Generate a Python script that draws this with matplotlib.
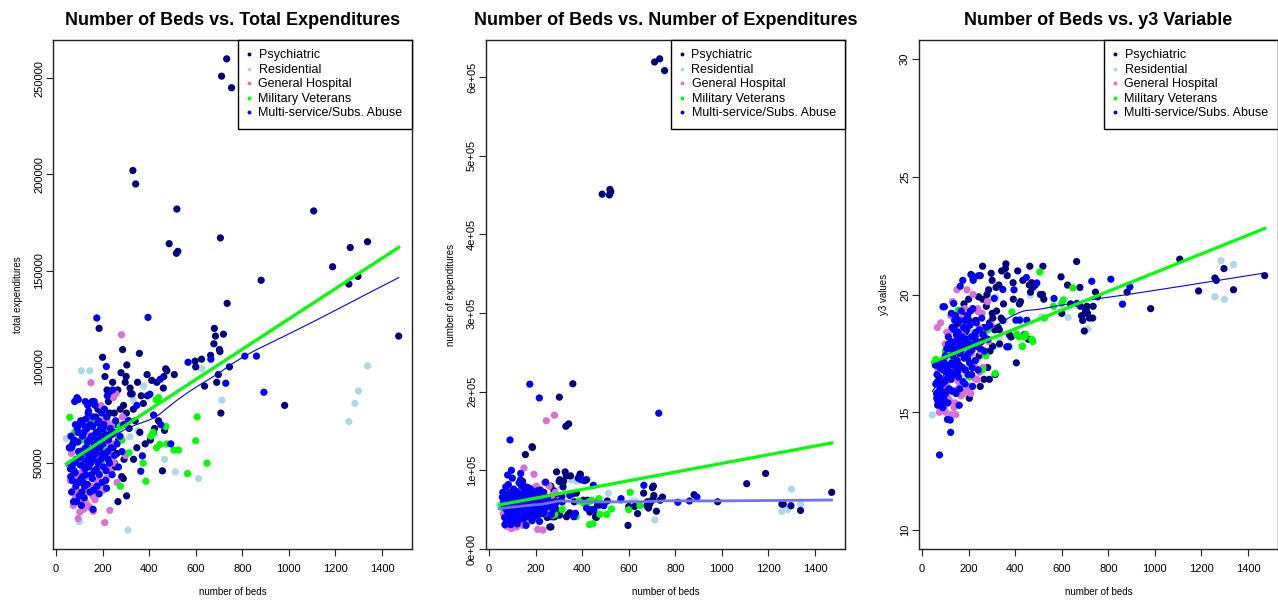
"""Number of beds vs. three expenditure measures, by facility type."""

import numpy as np
import matplotlib
matplotlib.use("Agg")
import matplotlib.pyplot as plt
from matplotlib.lines import Line2D
from matplotlib.ticker import FuncFormatter

plt.rcParams["font.family"] = ["Liberation Sans", "DejaVu Sans"]

# ==============================================================================
# Data: beds, total expenditures (thousands),
# number of expenditures (thousands), y3 value
# ==============================================================================

psy_beds = [711, 733, 754, 486, 517, 519, 523, 330, 342, 706,
            1107, 1188, 1264, 1258, 1297, 1338, 881, 735, 1472, 982,
            680, 685, 678, 702, 719, 704, 597, 600, 625, 638,
            697, 708, 664, 745, 690, 471, 476, 508, 391, 411,
            433, 463, 461, 423, 466, 383, 418, 457, 375, 392,
            366, 405, 440, 332, 327, 301, 297, 304, 358, 286,
            268, 261, 292, 303, 266, 282, 333, 347, 360, 302,
            312, 276, 340, 320, 290, 350, 250, 200, 185, 156,
            186, 210, 219, 260, 240, 230, 225, 245, 255, 214,
            203, 207, 250, 289, 314, 235, 265, 180, 170, 195,
            160, 150, 279, 318, 243]
psy_total = [251, 260, 245, 164, 159, 182, 160, 202, 195, 167,
             181, 152, 162, 143, 147, 165, 145, 133, 116, 80,
             120, 116, 112, 109, 117, 108, 103, 100, 104, 90,
             96, 76, 106, 100, 92, 99, 98, 96, 96, 93,
             92, 95, 89, 68, 67, 60, 66, 46, 81, 85,
             85, 62, 72, 78, 86, 95, 92, 101, 107, 109,
             62, 55, 52, 33, 30, 43, 52, 58, 66, 76,
             72, 78, 72, 86, 80, 92, 76, 105, 120, 82,
             60, 95, 88, 70, 65, 76, 82, 58, 48, 72,
             66, 55, 50, 42, 68, 85, 88, 78, 74, 70,
             64, 70, 97, 89, 92]
psy_number = [619, 623, 608, 451, 450, 457, 454, 156, 159, 80,
              83, 96, 57, 57, 55, 49, 69, 62, 72, 60,
              60, 52, 55, 78, 48, 63, 30, 54, 54, 45,
              61, 68, 71, 66, 57, 62, 56, 61, 95, 87,
              47, 43, 40, 62, 56, 90, 88, 41, 71, 95,
              60, 62, 50, 93, 98, 86, 66, 88, 70, 63,
              41, 28, 45, 43, 28, 41, 41, 46, 210, 193,
              67, 41, 44, 86, 98, 93, 62, 60, 130, 120,
              129, 55, 62, 60, 55, 70, 58, 52, 48, 48,
              45, 52, 40, 50, 60, 72, 80, 66, 58, 72,
              62, 50, 74, 79, 66]
psy_y3 = [19.2, 19.0, 19.9, 20.4, 20.0, 21.2, 19.8, 20.4, 21.0, 19.3,
          21.5, 20.15, 20.6, 20.7, 21.1, 20.2, 20.1, 19.5, 20.8, 19.4,
          19.5, 19.1, 20.3, 19.3, 19.0, 19.2, 20.75, 19.2, 20.4, 19.6,
          18.45, 19.5, 21.4, 20.1, 18.9, 20.5, 20.3, 20.0, 20.5, 21.0,
          20.6, 21.2, 20.4, 19.7, 20.1, 18.2, 19.6, 18.1, 18.3, 19.8,
          20.8, 17.1, 18.3, 18.5, 18.6, 20.6, 20.9, 19.0, 21.1, 20.2,
          18.2, 19.8, 17.6, 17.8, 16.4, 16.9, 17.9, 18.9, 21.3, 19.2,
          18.5, 19.5, 19.0, 19.3, 18.8, 19.6, 20.8, 19.8, 19.1, 18.8,
          18.4, 20.85, 20.65, 21.2, 19.3, 18.9, 18.1, 17.4, 18.0, 17.6,
          15.6, 16.1, 16.1, 16.4, 16.6, 17.8, 18.6, 19.6, 18.3, 17.3,
          17.0, 18.7, 20.0, 20.3, 19.9]

res_beds = [1338, 1299, 1284, 1258, 712, 627, 612, 513, 466, 309,
            100, 109, 145, 44, 376, 331, 352, 424, 317, 245,
            200, 210, 130, 71, 160, 180, 230, 90, 120, 300,
            275]
res_total = [100.5, 87.5, 81, 71.6, 82.7, 99, 42, 45.5, 52, 15.2,
             19.6, 98, 98, 62.8, 90, 83, 67, 64.6, 63.7, 54,
             62, 66, 81, 58, 45, 40, 52, 70, 35, 55,
             70]
res_number = [57, 76, 50, 48, 37, 61, 60, 71, 52, 79,
              50, 62, 58, 56, 86, 71, 88, 89, 55, 52,
              58, 62, 56, 54, 48, 50, 45, 60, 40, 60,
              65]
res_y3 = [21.27, 19.79, 21.44, 19.9, 18.54, 19.03, 19.8, 19.05, 19.97, 17.78,
          15.8, 17.4, 18.9, 14.89, 18.2, 18.14, 18.9, 18.95, 19.9, 17.3,
          17.9, 18.4, 17.2, 15.5, 16.8, 16.5, 18.3, 16.3, 17.5, 19.2,
          18.6]

gen_beds = [281, 150, 209, 95, 102, 231, 145, 160, 246, 193,
            239, 66, 80, 126, 83, 176, 190, 237, 247, 219,
            240, 137, 104, 117, 121, 133, 141, 152, 164, 172,
            184, 188, 204, 212, 222, 229, 88, 86, 76, 69,
            61, 114, 124, 131, 147, 157, 167, 178, 182, 197,
            206, 216, 226, 258, 270, 106, 97, 112, 142, 168,
            198, 128, 118, 298, 285, 74, 92, 155, 139, 109,
            174, 251, 262, 99, 81]
gen_total = [116.7, 91.8, 19.1, 21.2, 24.6, 25.5, 27, 25, 84, 80,
             70, 55, 62, 30, 32, 35, 38, 45, 50, 72,
             68, 28, 41, 46, 37, 43, 49, 51, 56, 59,
             61, 67, 69, 73, 59, 55, 36, 45, 36, 47,
             41, 57, 63, 65, 71, 33, 31, 41, 45, 49,
             36, 42, 47, 86, 64, 62, 70, 29, 35, 46,
             56, 52, 26, 54, 74, 28, 31, 38, 58, 45,
             53, 60, 40, 56, 42]
gen_number = [170, 103, 25, 26, 27, 24, 30, 32, 163, 95,
              84, 50, 55, 35, 30, 40, 42, 45, 48, 70,
              65, 32, 39, 44, 36, 52, 57, 61, 64, 68,
              71, 77, 80, 61, 57, 51, 41, 47, 37, 53,
              45, 59, 65, 69, 74, 37, 35, 45, 49, 53,
              39, 47, 51, 80, 68, 71, 77, 30, 33, 46,
              56, 49, 28, 62, 72, 29, 36, 42, 60, 54,
              58, 63, 46, 66, 48]
gen_y3 = [19.7, 20.2, 15.8, 15.2, 15.0, 16.4, 14.9, 15.3, 18.6, 20.2,
          19.4, 18.6, 18.8, 14.9, 15.2, 15.8, 15.9, 16.4, 16.7, 20.0,
          19.3, 15.2, 16.2, 16.9, 17.0, 17.6, 18.0, 18.4, 18.5, 19.0,
          19.4, 18.7, 18.1, 17.5, 17.1, 16.9, 16.0, 16.4, 15.6, 16.8,
          17.2, 18.4, 19.1, 19.7, 18.2, 16.3, 15.7, 16.8, 17.4, 17.8,
          16.1, 16.5, 17.2, 19.2, 18.4, 18.4, 17.3, 15.6, 15.4, 17.7,
          18.9, 16.4, 15.5, 18.7, 18.0, 15.0, 15.5, 16.0, 17.3, 17.0,
          18.3, 17.6, 16.9, 17.9, 17.0]

mil_beds = [606, 600, 648, 565, 506, 526, 472, 446, 417, 374,
            386, 430, 440, 276, 314, 274, 259, 59, 154, 200,
            203, 120, 100, 80, 476, 407, 283, 432]
mil_total = [74, 61.6, 50, 44.6, 56.8, 56.8, 69, 59.7, 66, 50,
             40.6, 83, 84, 38, 55.4, 69, 65.8, 73.8, 72, 58,
             52, 62, 55, 66, 60, 64, 62, 58]
mil_number = [72, 50, 55, 62, 44, 51, 64, 32, 58, 41,
              61, 60, 62, 44, 50, 43, 47, 52, 55, 42,
              48, 45, 50, 58, 44, 58, 44, 31]
mil_y3 = [19.76, 19.62, 20.28, 19.5, 20.96, 19.0, 18.1, 18.3, 18.2, 17.8,
          19.26, 17.8, 18.2, 18.49, 16.65, 17.4, 16.8, 17.25, 19.33, 18.1,
          16.5, 17.6, 17.6, 16.9, 18.0, 18.3, 18.5, 17.8]

mul_beds = [175, 216, 90, 729, 395, 567, 665, 811, 861, 893,
            403, 448, 371, 364, 493, 419, 450, 347, 310, 243,
            220, 164, 136, 96, 57, 121, 75, 123, 109, 80,
            100, 140, 72, 68, 217, 159, 93, 62, 66, 70,
            114, 78, 182, 85, 127, 91, 149, 97, 99, 202,
            104, 106, 108, 171, 113, 116, 118, 155, 123, 126,
            128, 131, 133, 136, 138, 141, 143, 146, 148, 151,
            153, 156, 158, 161, 163, 166, 168, 171, 173, 176,
            178, 181, 183, 186, 188, 191, 193, 196, 198, 201,
            204, 206, 209, 212, 215, 218, 222, 226, 229, 233,
            237, 241, 246, 251, 256, 262, 268, 275, 283, 290,
            64, 67, 73, 77, 83, 87, 89, 94, 101, 103,
            111, 119, 124, 129, 134, 139, 144, 152, 157, 162,
            167, 174, 179, 185, 192, 199, 208, 213, 224, 231,
            59, 63, 76, 82, 95, 105, 115, 125, 135, 145]
mul_total = [125.4, 100.2, 84, 91.5, 125.7, 102.4, 104, 105.6, 105.6, 86.8,
             85.8, 93.6, 53.8, 45.8, 60, 75, 70, 80, 72, 88,
             85, 82, 80, 83, 58, 32, 30, 38, 28, 82,
             70, 77, 60, 48, 37, 26, 40, 47, 58, 41,
             64, 50, 66, 38, 58, 68, 50, 56, 33, 68,
             49, 72, 42, 60, 72, 40, 56, 64, 50, 82,
             44, 58, 68, 52, 76, 48, 62, 35, 70, 56,
             64, 42, 74, 52, 60, 46, 80, 55, 66, 38,
             62, 50, 72, 44, 58, 68, 52, 76, 40, 60,
             48, 70, 54, 64, 46, 74, 56, 62, 50, 68,
             58, 44, 66, 54, 72, 60, 48, 64, 56, 70,
             64, 35, 60, 46, 70, 52, 30, 61, 40, 56,
             35, 66, 47, 73, 39, 55, 81, 44, 69, 36,
             57, 47, 71, 34, 63, 55, 78, 41, 52, 65,
             58, 43, 62, 45, 66, 53, 43, 69, 61, 53]
mul_number = [209.5, 192, 138.6, 172.6, 88, 64, 81, 59.4, 61, 66,
              87.8, 81, 45.4, 41, 55, 52, 50, 68, 62, 85,
              75, 70, 96, 100, 66, 32, 34, 36, 35, 94,
              90, 80, 79, 31, 35, 30, 31, 60, 58, 52,
              62, 48, 70, 44, 64, 72, 55, 48, 42, 66,
              58, 76, 50, 62, 68, 46, 54, 74, 60, 64,
              40, 56, 70, 52, 62, 58, 66, 38, 72, 48,
              60, 54, 68, 46, 58, 62, 78, 52, 64, 44,
              56, 60, 70, 50, 62, 66, 48, 72, 42, 58,
              54, 64, 60, 52, 46, 68, 56, 62, 50, 70,
              46, 52, 60, 64, 58, 54, 44, 50, 56, 60,
              66, 40, 70, 54, 82, 62, 38, 67, 46, 64,
              36, 73, 42, 84, 40, 57, 86, 49, 79, 41,
              63, 46, 76, 36, 68, 52, 74, 44, 58, 45,
              72, 56, 40, 60, 52, 38, 70, 44, 88, 40]
mul_y3 = [20.6, 20.8, 19.48, 20.56, 20.2, 19.83, 19.62, 20.65, 19.59, 20.32,
          18.91, 20.72, 17.78, 17.78, 20.49, 18.91, 18.91, 20.21, 19.83, 20.8,
          20.6, 20.35, 19.62, 19.48, 17.0, 14.67, 13.19, 14.15, 14.7, 16.9,
          17.4, 18.9, 15.9, 15.5, 16.1, 15.3, 15.6, 15.8, 16.3, 15.4,
          17.9, 16.0, 18.6, 15.8, 17.1, 16.8, 17.0, 16.3, 15.4, 18.9,
          16.4, 17.7, 15.9, 17.9, 18.2, 16.0, 17.0, 18.4, 16.7, 19.2,
          15.9, 17.4, 17.9, 16.6, 18.5, 17.1, 17.7, 15.8, 18.3, 17.2,
          18.1, 16.5, 18.9, 17.5, 17.9, 16.9, 19.3, 17.7, 18.2, 16.3,
          17.8, 17.3, 18.9, 16.8, 18.0, 18.5, 17.4, 19.1, 16.6, 17.9,
          17.1, 18.7, 17.6, 18.2, 16.9, 19.4, 17.8, 18.3, 17.2, 18.8,
          18.0, 16.8, 18.5, 17.7, 19.0, 18.3, 17.6, 18.6, 18.1, 18.7,
          16.6, 15.3, 16.5, 15.9, 17.1, 16.2, 15.2, 16.8, 15.8, 16.7,
          15.4, 17.7, 16.4, 18.6, 15.9, 17.0, 19.1, 16.7, 18.3, 16.0,
          17.6, 16.9, 18.6, 16.2, 18.1, 17.5, 19.3, 16.6, 17.9, 18.4,
          16.2, 15.6, 16.9, 15.8, 17.1, 16.9, 16.5, 18.0, 17.6, 16.9]

type_names = ["Psychiatric", "Residential", "General Hospital",
              "Military Veterans", "Multi-service/Subs. Abuse"]
type_colors = ["#000080", "#ADD8E6", "#DA70D6", "#00FF00", "#0000FF"]

beds_by_type = [psy_beds, res_beds, gen_beds, mil_beds, mul_beds]
total_by_type = [psy_total, res_total, gen_total, mil_total, mul_total]
number_by_type = [psy_number, res_number, gen_number, mil_number, mul_number]
y3_by_type = [psy_y3, res_y3, gen_y3, mil_y3, mul_y3]

for group in (total_by_type, number_by_type, y3_by_type):
    for b, v in zip(beds_by_type, group):
        assert len(b) == len(v)


# ==============================================================================
# Helpers
# ==============================================================================

def lowess(x, y, f=2 / 3, iters=3):
    """Plain LOWESS smoother (same defaults as R's lowess())."""
    order = np.argsort(x, kind="stable")
    x = np.asarray(x, float)[order]
    y = np.asarray(y, float)[order]
    n = len(x)
    r = int(np.ceil(f * n))
    robust = np.ones(n)
    fit = np.zeros(n)
    for _ in range(iters + 1):
        for i in range(n):
            d = np.abs(x - x[i])
            h = max(np.sort(d)[r - 1], 1e-12)
            w = np.clip(d / h, 0, 1)
            w = (1 - w ** 3) ** 3 * robust
            sw = w.sum()
            xm = (w * x).sum() / sw
            ym = (w * y).sum() / sw
            sxx = (w * (x - xm) ** 2).sum()
            b = (w * (x - xm) * (y - ym)).sum() / sxx if sxx > 0 else 0.0
            fit[i] = ym + b * (x[i] - xm)
        res = y - fit
        s = np.median(np.abs(res))
        u = np.clip(res / (6 * s), -1, 1)
        robust = (1 - u ** 2) ** 2
    return x, fit


def r_range(values, pad=0.04):
    lo, hi = min(values), max(values)
    span = hi - lo
    return lo - pad * span, hi + pad * span


# ==============================================================================
# Plot
# ==============================================================================

fig = plt.figure(figsize=(12.78, 6.01), dpi=100)
ax_w, ax_h, ax_b = 359 / 1278, 509 / 601, 52 / 601
lefts = [53 / 1278, 486 / 1278, 919 / 1278]

panels = [
    ("Number of Beds vs. Total Expenditures", "total expenditures",
     total_by_type, 1000.0, "#0000FF", 0.8),
    ("Number of Beds vs. Number of Expenditures", "number of expenditures",
     number_by_type, 1000.0, "#7272F2", 2.0),
    ("Number of Beds vs. y3 Variable", "y3 values",
     y3_by_type, 1.0, "#0000FF", 0.8),
]

all_beds = np.concatenate([np.asarray(b, float) for b in beds_by_type])
draw_order = [1, 0, 2, 3, 4]

for k, (title, ylabel, values, scale, smooth_color, smooth_lw) in enumerate(panels):
    ax = fig.add_axes([lefts[k], ax_b, ax_w, ax_h])
    all_vals = np.concatenate([np.asarray(v, float) * scale for v in values])

    for t in draw_order:
        ax.scatter(beds_by_type[t], np.asarray(values[t], float) * scale,
                   s=27, color=type_colors[t], edgecolors="none", zorder=2)

    # lowess smoother (blue) and least-squares line (green)
    sx, sy = lowess(all_beds, all_vals)
    ax.plot(sx, sy, color=smooth_color, lw=smooth_lw, zorder=3)
    slope, icpt = np.polyfit(all_beds, all_vals, 1)
    ax.plot(sx, icpt + slope * sx, color="#00FF00", lw=2.3, zorder=4)

    ax.set_xlim(*r_range(all_beds))
    ax.set_xticks(np.arange(0, 1401, 200))
    if k == 0:
        ax.set_ylim(*r_range(all_vals))
        ax.set_yticks(np.arange(50000, 250001, 50000))
        ax.yaxis.set_major_formatter(FuncFormatter(lambda v, p: f"{v:.0f}"))
    elif k == 1:
        ax.set_ylim(*r_range(all_vals))
        ax.set_yticks(np.arange(0, 600001, 100000))
        ax.yaxis.set_major_formatter(FuncFormatter(lambda v, p: f"{v:.0e}"))
    else:
        ax.set_ylim(*r_range([10, 30]))
        ax.set_yticks([10, 15, 20, 25, 30])

    ax.tick_params(axis="both", direction="out", length=5, width=0.8,
                   labelsize=8, color="#222222")
    ax.tick_params(axis="x", pad=6)
    ax.tick_params(axis="y", pad=1.5)
    for lbl in ax.get_yticklabels():
        lbl.set_rotation(90)
        lbl.set_va("center")
    for sp in ax.spines.values():
        sp.set_linewidth(1.0)
        sp.set_color("#222222")

    ax.set_title(title, fontsize=13, fontweight="bold", pad=11)
    ax.set_xlabel("number of beds", fontsize=7, labelpad=9)
    ax.set_ylabel(ylabel, fontsize=7, labelpad=8)

    handles = [Line2D([], [], marker="o", ls="none", markersize=2.8,
                      color=c, markeredgewidth=0) for c in type_colors]
    leg = ax.legend(handles, type_names, loc="upper right", fontsize=9,
                    frameon=True, fancybox=False, framealpha=1,
                    borderaxespad=0, borderpad=0.75, labelspacing=0.2,
                    handlelength=0.35, handletextpad=0.55)
    leg.get_frame().set_edgecolor("black")
    leg.get_frame().set_linewidth(1.0)
    leg.set_zorder(5)

fig.savefig("out.png", dpi=100)
